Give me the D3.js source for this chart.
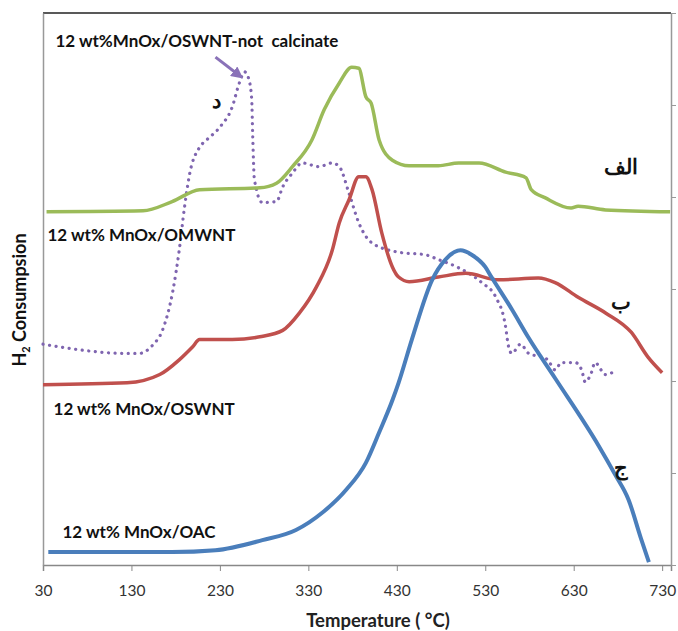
<!DOCTYPE html>
<html>
<head>
<meta charset="utf-8">
<script src="https://cdn.jsdelivr.net/npm/d3@7"></script>
<style>
  body { margin: 0; background: #fff; }
  text { font-family: Lato, "Open Sans", sans-serif; }
</style>
</head>
<body>
<script>
// temperature ticks on the x axis
var xTicks = [30, 130, 230, 330, 430, 530, 630, 730];
var yTicks = [0, 1, 2, 3, 4, 5, 6];

// each series: [temperature, H2 consumption (a.u.)]
var omwnt = [[34,3.84],[143,3.85],[176,3.95],[207,4.08],[275,4.10],[294,4.15],[312,4.33],[334,4.62],
  [348,4.95],[365,5.24],[379,5.41],[387,5.40],[395,5.09],[401,5.02],[410,4.62],[425,4.40],[444,4.34],
  [477,4.34],[500,4.37],[523,4.37],[553,4.27],[576,4.21],[582,4.08],[598,3.99],[627,3.88],[635,3.90],
  [666,3.86],[739,3.84]];
var oswnt = [[30,1.96],[125,1.98],[162,2.07],[184,2.23],[199,2.37],[207,2.45],[244,2.45],[275,2.48],
  [301,2.55],[320,2.74],[339,3.02],[357,3.42],[365,3.72],[376,3.97],[387,4.22],[395,4.22],[402,4.08],
  [413,3.61],[425,3.24],[432,3.13],[444,3.08],[477,3.13],[508,3.17],[545,3.10],[590,3.12],[609,3.07],
  [635,2.91],[666,2.74],[695,2.53],[714,2.26],[730,2.09]];
var oac = [[36,0.14],[117,0.14],[176,0.14],[225,0.16],[278,0.27],[316,0.38],[346,0.57],[373,0.82],
  [395,1.11],[410,1.44],[425,1.79],[432,1.98],[447,2.45],[470,3.10],[485,3.32],[502,3.42],[515,3.37],
  [530,3.24],[537,3.13],[560,2.78],[579,2.47],[609,2.03],[658,1.30],[677,0.98],[692,0.71],
  [706,0.29],[715,0.03]];
var notCalc = [[30,2.40],[125,2.30],[139,2.30],[154,2.39],[165,2.55],[177,2.99],[184,3.42],[190,3.89],
  [196,4.26],[207,4.54],[215,4.62],[230,4.76],[244,4.98],[252,5.24],[258,5.36],[263,5.27],[266,5.05],
  [267,4.70],[269,4.19],[278,3.94],[294,3.95],[301,4.11],[312,4.26],[323,4.37],[342,4.33],[357,4.37],
  [365,4.33],[376,4.04],[387,3.72],[402,3.50],[432,3.40],[463,3.37],[477,3.32],[500,3.23],[526,3.07],
  [542,2.91],[553,2.59],[556,2.39],[560,2.30],[570,2.40],[579,2.30],[598,2.25],[602,2.21],[609,2.12],
  [616,2.20],[632,2.20],[639,2.12],[643,1.99],[650,2.09],[654,2.20],[666,2.07],[677,2.11]];

// text labels: [text, temperature, value]
var labels = [
  ["12 wt%MnOx/OSWNT-not  calcinate", 44, 5.63],
  ["12 wt% MnOx/OMWNT", 35, 3.52],
  ["12 wt% MnOx/OSWNT", 42, 1.63],
  ["12 wt% MnOx/OAC", 52, 0.29]
];
var arabic = [["د", 226, 4.97], ["الف", 683, 4.25], ["ب", 683, 2.78], ["ج", 683, 0.98]];

var margin = {top: 13, right: 7, bottom: 66, left: 43},
    width = 678 - margin.left - margin.right,
    height = 631 - margin.top - margin.bottom;

var svg = d3.select("body").append("svg")
    .attr("width", 678)
    .attr("height", 631);

var g = svg.append("g")
    .attr("transform", "translate(" + margin.left + "," + margin.top + ")");

var x = d3.scaleLinear().domain([30, 740]).range([0, width]);
var y = d3.scaleLinear().domain([0, 6]).range([height, 0]);

svg.append("defs").append("marker")
    .attr("id", "arr")
    .attr("viewBox", "0 0 10 10")
    .attr("refX", 6).attr("refY", 5)
    .attr("markerWidth", 4).attr("markerHeight", 4)
    .attr("orient", "auto")
  .append("path")
    .attr("d", "M0,0L10,5L0,10z")
    .attr("fill", "#8a72b8");

// frame
g.append("line").attr("x1", 0).attr("x2", width).attr("y1", 0).attr("y2", 0)
    .attr("stroke", "#222").attr("stroke-width", 1.5);

// bottom axis
var xa = g.append("g")
    .attr("transform", "translate(0," + height + ")")
    .call(d3.axisBottom(x).tickValues(xTicks).tickSize(6).tickPadding(14));
xa.select(".domain").attr("stroke", "#888").attr("stroke-width", 1.5);
xa.selectAll(".tick line").attr("stroke", "#888");
xa.selectAll("text").attr("font-size", 15.5).attr("fill", "#333");

// left axis, no ticks
var ya = g.append("g").call(d3.axisLeft(y).tickValues([]).tickSizeOuter(0));
ya.select(".domain").attr("stroke", "#999").attr("stroke-width", 1.5);

// right axis with ticks
var yr = g.append("g")
    .attr("transform", "translate(" + width + ",0)")
    .call(d3.axisRight(y).tickValues(yTicks).tickSize(5).tickSizeOuter(0).tickFormat(""));
yr.select(".domain").attr("stroke", "#999").attr("stroke-width", 1.5);
yr.selectAll(".tick line").attr("stroke", "#999");

var line = d3.line()
    .curve(d3.curveMonotoneX)
    .x(function(d) { return x(d[0]); })
    .y(function(d) { return y(d[1]); });

g.append("path").datum(notCalc)
    .attr("fill", "none").attr("stroke", "#7f65b0").attr("stroke-width", 3.2)
    .attr("stroke-linecap", "round").attr("stroke-dasharray", "0.1,6.5")
    .attr("d", line);
g.append("path").datum(omwnt)
    .attr("fill", "none").attr("stroke", "#9bbb59").attr("stroke-width", 3.5)
    .attr("d", line);
g.append("path").datum(oswnt)
    .attr("fill", "none").attr("stroke", "#c0504d").attr("stroke-width", 3.5)
    .attr("d", line);
g.append("path").datum(oac)
    .attr("fill", "none").attr("stroke", "#4a7ebb").attr("stroke-width", 4)
    .attr("d", line);

// arrow to the not calcinated peak
g.append("line")
    .attr("x1", x(225)).attr("y1", y(5.52))
    .attr("x2", x(252)).attr("y2", y(5.32))
    .attr("stroke", "#8a72b8").attr("stroke-width", 3)
    .attr("marker-end", "url(#arr)");

g.selectAll(".lbl").data(labels).enter().append("text")
    .attr("class", "lbl")
    .attr("x", function(d) { return x(d[1]); })
    .attr("y", function(d) { return y(d[2]); })
    .attr("font-size", 17).attr("font-weight", "bold").attr("fill", "#111")
    .style("white-space", "pre")
    .text(function(d) { return d[0]; });

g.selectAll(".ar").data(arabic).enter().append("text")
    .attr("class", "ar")
    .attr("x", function(d) { return x(d[1]); })
    .attr("y", function(d) { return y(d[2]); })
    .attr("text-anchor", "middle")
    .attr("font-family", "'DejaVu Sans', sans-serif")
    .attr("font-size", 21).attr("font-weight", "bold").attr("fill", "#111")
    .text(function(d) { return d[0]; });

// axis titles
svg.append("text")
    .attr("x", 378).attr("y", 627)
    .attr("text-anchor", "middle")
    .attr("font-size", 18.5).attr("font-weight", "bold").attr("fill", "#222")
    .text("Temperature ( °C)");

var yt = svg.append("text")
    .attr("transform", "translate(26,300) rotate(-90)")
    .attr("text-anchor", "middle")
    .attr("font-size", 18).attr("font-weight", "bold").attr("fill", "#111");
yt.append("tspan").text("H");
yt.append("tspan").attr("font-size", 11).attr("dy", 4).text("2");
yt.append("tspan").attr("dy", -4).text(" Consumpsion");
</script>
</body>
</html>
